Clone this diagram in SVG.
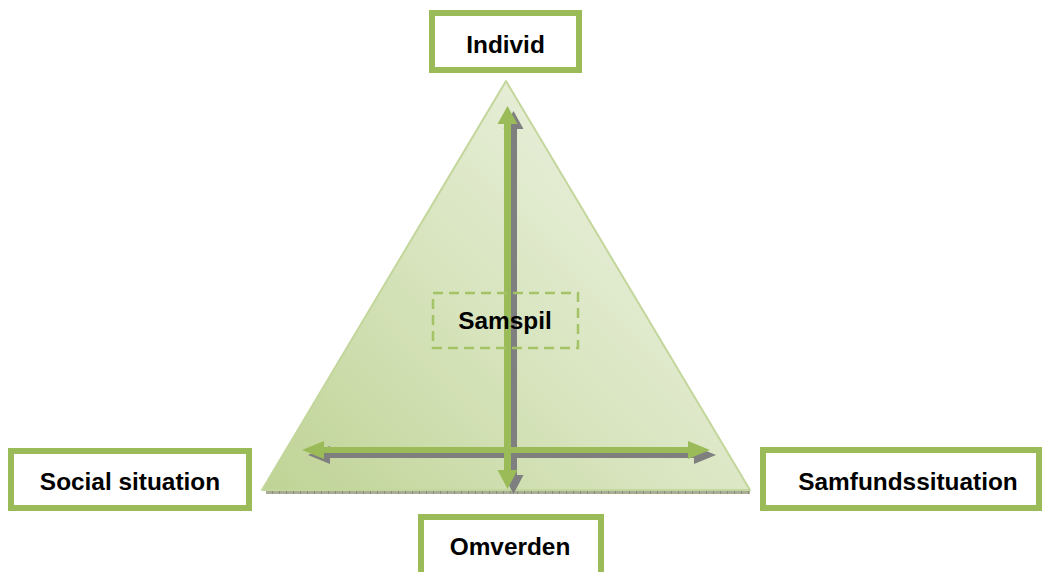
<svg xmlns="http://www.w3.org/2000/svg" width="1043" height="572" viewBox="0 0 1043 572">
  <defs>
    <style>
      .box { fill: #ffffff; stroke: #9bbb59; stroke-width: 6; }
      .lbl { font-family: "Liberation Sans", Arial, sans-serif; font-weight: bold; font-size: 24.4px; fill: #000000; text-anchor: middle; }
      .arrow { fill: #9bbb59; }
      .shadow { fill: #7f7f7f; }
    </style>
    <linearGradient id="triGrad" x1="0" y1="1" x2="1" y2="0.2">
      <stop offset="0" stop-color="#bfd395"/>
      <stop offset="0.45" stop-color="#d6e3bb"/>
      <stop offset="1" stop-color="#eef3e5"/>
    </linearGradient>
    <pattern id="hatch" x="0" y="0" width="7" height="4" patternUnits="userSpaceOnUse">
      <rect width="7" height="4" fill="#a9ad96"/>
      <rect x="6" width="1" height="4" fill="#8a8d78"/>
    </pattern>
    <path id="vArrow" d="M507.5,106 L517.5,124 L511,124 L511,470 L517.5,470 L507.5,489 L497.5,470 L504,470 L504,124 L497.5,124 Z"/>
    <path id="hArrow" d="M302,450 L324,441 L324,447 L688,447 L688,441 L710,450 L688,459 L688,453 L324,453 L324,459 Z"/>
  </defs>

  <g id="triangle">
    <rect x="266" y="490" width="484" height="4" fill="url(#hatch)"/>
    <polygon points="506,81 262,490 750,490" fill="url(#triGrad)" stroke="#c3d69b" stroke-width="2" stroke-linejoin="round"/>
  </g>

  <g id="connectors">
    <use href="#vArrow" class="shadow" transform="translate(6,5)"/>
    <use href="#hArrow" class="shadow" transform="translate(6,5)"/>
    <use href="#vArrow" class="arrow"/>
    <use href="#hArrow" class="arrow"/>
  </g>

  <g id="samspil">
    <rect x="433" y="293" width="145" height="55" fill="none" stroke="#a4c266" stroke-width="2.5" stroke-dasharray="10,6"/>
    <text class="lbl" x="505" y="329" font-size="23.5">Samspil</text>
  </g>

  <g id="individ">
    <rect class="box" x="432" y="13" width="147" height="57"/>
    <text class="lbl" x="505.5" y="53">Individ</text>
  </g>

  <g id="social-situation">
    <rect class="box" x="11" y="451" width="238" height="57"/>
    <text class="lbl" x="130" y="490">Social situation</text>
  </g>

  <g id="samfundssituation">
    <rect class="box" x="763" y="450" width="276" height="58"/>
    <text class="lbl" x="908" y="490">Samfundssituation</text>
  </g>

  <g id="omverden">
    <rect class="box" x="421" y="517" width="180" height="62"/>
    <text class="lbl" x="510" y="555">Omverden</text>
  </g>
</svg>
